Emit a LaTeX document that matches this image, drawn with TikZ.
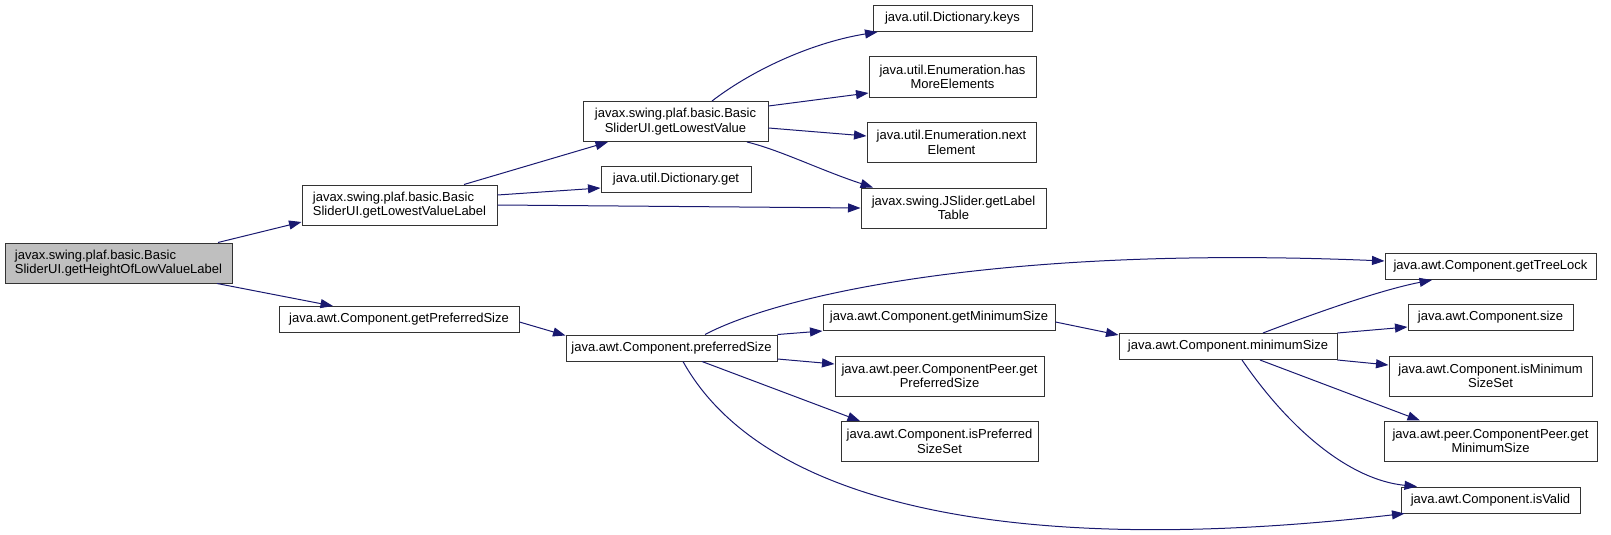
\documentclass[tikz,border=0pt]{standalone}
\usepackage{fontspec}
\setmainfont{Liberation Sans}
\usetikzlibrary{arrows.meta}
\definecolor{edgeblue}{HTML}{191970}
\definecolor{curgray}{HTML}{BFBFBF}
\newcommand\fnfont{\fontsize{13}{14.5}\selectfont}
\tikzset{
  fn/.style={draw=black!80, line width=1pt, fill=white, inner sep=0pt,
    minimum height=26pt, align=center, font=\fnfont},
  fntwo/.style={fn, minimum height=40pt},
  calls/.style={draw=edgeblue, line width=1pt, -{Triangle[length=12.5pt,width=9pt]}},
}

\begin{document}
\begin{tikzpicture}[x=1pt,y=-1pt]
  \useasboundingbox (0,0) rectangle (1611,535);
  % Caller
  \node[fntwo, align=left, fill=curgray, minimum width=227pt] (root) at (118.5,263)
    {javax.swing.plaf.basic.Basic\\SliderUI.getHeightOfLowValueLabel};
  % First level
  \node[fntwo, align=left, minimum width=195pt] (lowlabel) at (399.5,205)
    {javax.swing.plaf.basic.Basic\\SliderUI.getLowestValueLabel};
  \node[fn, minimum width=240pt] (getpref) at (399,319.5) {java.awt.Component.getPreferredSize};
  % Second level
  \node[fntwo, minimum width=185pt] (lowest) at (675.5,121.5)
    {javax.swing.plaf.basic.Basic\\SliderUI.getLowestValue};
  \node[fn, minimum width=150pt] (dictget) at (676,179.5) {java.util.Dictionary.get};
  \node[fn, minimum width=211pt] (prefsize) at (671.5,348) {java.awt.Component.preferredSize};
  % Third level
  \node[fn, minimum width=159pt] (keys) at (952.5,18.5) {java.util.Dictionary.keys};
  \node[fntwo, minimum width=167pt] (hasmore) at (952.5,77) {java.util.Enumeration.has\\MoreElements};
  \node[fntwo, minimum width=169pt] (next) at (951.5,142.5) {java.util.Enumeration.next\\Element};
  \node[fntwo, minimum width=185pt] (labeltable) at (953.5,208) {javax.swing.JSlider.getLabel\\Table};
  \node[fn, minimum width=232pt] (getmin) at (939,317.5) {java.awt.Component.getMinimumSize};
  \node[fntwo, minimum width=209pt] (peerpref) at (939.5,376) {java.awt.peer.ComponentPeer.get\\PreferredSize};
  \node[fntwo, minimum width=197pt] (isprefset) at (939.5,441.5) {java.awt.Component.isPreferred\\SizeSet};
  % Fourth level
  \node[fn, minimum width=218pt] (minsize) at (1228,346.5) {java.awt.Component.minimumSize};
  % Fifth level
  \node[fn, minimum width=211pt] (treelock) at (1490.5,266.5) {java.awt.Component.getTreeLock};
  \node[fn, minimum width=165pt] (size) at (1490.5,317.5) {java.awt.Component.size};
  \node[fntwo, minimum width=203pt] (isminset) at (1490.5,376) {java.awt.Component.isMinimum\\SizeSet};
  \node[fntwo, minimum width=213pt] (peermin) at (1490.5,441) {java.awt.peer.ComponentPeer.get\\MinimumSize};
  \node[fn, minimum width=179pt] (isvalid) at (1490.5,500) {java.awt.Component.isValid};

  % Calls
  \draw[calls] ([xshift=99.5pt]root.north) -- ([yshift=-17pt]lowlabel.west);
  \draw[calls] ([xshift=98.5pt]root.south) -- ([xshift=-66pt]getpref.north);
  \draw[calls] ([xshift=64.5pt]lowlabel.north) -- ([xshift=-67.5pt]lowest.south);
  \draw[calls] ([yshift=10pt]lowlabel.east) -- ([yshift=-8.5pt]dictget.west);
  \draw[calls] (lowlabel.east) -- (labeltable.west);
  \draw[calls] ([xshift=36.5pt]lowest.north) .. controls (755,68) and (815,42) .. ([xshift=-75pt]keys.south);
  \draw[calls] ([yshift=15.5pt]lowest.east) -- ([yshift=-16pt]hasmore.west);
  \draw[calls] ([yshift=-6.5pt]lowest.east) -- ([yshift=6.5pt]next.west);
  \draw[calls] ([xshift=71.5pt]lowest.south) .. controls (780,150) and (820,170) .. ([xshift=-80.5pt]labeltable.north);
  \draw[calls] ([yshift=-2.5pt]getpref.east) -- ([yshift=-1pt]prefsize.north west);
  \draw[calls] ([xshift=33.5pt]prefsize.north) .. controls (780,295) and (1000,245) .. ([yshift=5.5pt]treelock.west);
  \draw[calls] (prefsize.north east) -- (getmin.south west);
  \draw[calls] ([yshift=-11pt]prefsize.east) -- ([yshift=12pt]peerpref.west);
  \draw[calls] ([xshift=30.5pt]prefsize.south) -- ([xshift=-79.5pt]isprefset.north);
  \draw[calls] ([xshift=11.5pt]prefsize.south) .. controls (760,500) and (1000,560) .. ([xshift=4pt]isvalid.south west);
  \draw[calls] ([yshift=-4.5pt]getmin.east) -- ([yshift=-2pt]minsize.north west);
  \draw[calls] ([xshift=35pt]minsize.north) .. controls (1310,315) and (1380,290) .. ([xshift=-58.5pt]treelock.south);
  \draw[calls] (minsize.north east) -- ([yshift=-9.5pt]size.west);
  \draw[calls] (minsize.south east) -- ([yshift=11pt]isminset.west);
  \draw[calls] ([xshift=32pt]minsize.south) -- ([xshift=-70.5pt]peermin.north);
  \draw[calls] ([xshift=14pt]minsize.south) .. controls (1290,430) and (1350,480) .. ([xshift=-73.5pt]isvalid.north);
\end{tikzpicture}
\end{document}
